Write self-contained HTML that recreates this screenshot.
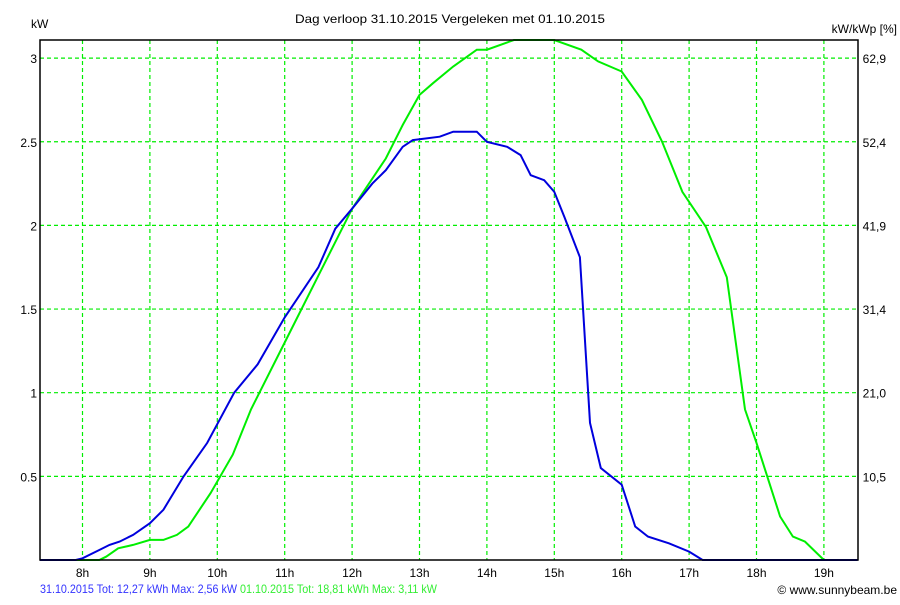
<!DOCTYPE html>
<html><head><meta charset="utf-8"><style>
body{margin:0;background:#fff;font-family:"Liberation Sans",Arial,sans-serif}
svg text{font-family:"Liberation Sans",Arial,sans-serif;font-size:12px}
</style></head><body>
<svg id="chart" width="900" height="600" xmlns="http://www.w3.org/2000/svg">
<rect width="900" height="600" fill="#fff"/>
<text x="295" y="23" textLength="310" lengthAdjust="spacingAndGlyphs" fill="#000">Dag  verloop 31.10.2015   Vergeleken met 01.10.2015</text>
<text x="31" y="28" fill="#000">kW</text>
<text x="897" y="33" text-anchor="end" fill="#000">kW/kWp [%]</text>
<g id="grid"></g>
<g id="series"></g>
<rect x="40" y="40" width="818" height="520" fill="none" stroke="#000" stroke-width="1.5"/>
<g id="labels"></g>
<text x="40" y="593" textLength="197" lengthAdjust="spacingAndGlyphs" fill="#3333ff" font-size="10.5">31.10.2015 Tot: 12,27 kWh Max: 2,56 kW</text>
<text x="240" y="593" textLength="197" lengthAdjust="spacingAndGlyphs" fill="#33ee33" font-size="10.5">01.10.2015 Tot: 18,81 kWh Max: 3,11 kW</text>
<text x="897" y="594" text-anchor="end" fill="#000" font-size="11">© www.sunnybeam.be</text>
</svg>
<script>
const hourTicks=[8,9,10,11,12,13,14,15,16,17,18,19];
const kwTicks=[0.5,1,1.5,2,2.5,3];
const pctLabels=["10,5","21,0","31,4","41,9","52,4","62,9"];
const blueHours=[7.37,7.9,8.0,8.25,8.4,8.55,8.75,9.0,9.2,9.5,9.85,10.25,10.6,11.0,11.5,11.75,12.0,12.3,12.5,12.75,12.9,13.3,13.5,13.85,14.0,14.3,14.5,14.65,14.85,15.0,15.15,15.38,15.53,15.69,16.0,16.2,16.39,16.7,17.0,17.2,19.5];
const blueKw=[0,0,0.01,0.06,0.09,0.11,0.15,0.22,0.3,0.5,0.7,1.0,1.17,1.45,1.75,1.98,2.1,2.25,2.33,2.47,2.51,2.53,2.56,2.56,2.5,2.47,2.42,2.3,2.27,2.2,2.05,1.81,0.82,0.55,0.45,0.2,0.14,0.1,0.05,0,0];
const greenHours=[7.37,8.25,8.35,8.53,8.75,9.0,9.2,9.4,9.57,9.9,10.23,10.5,11.0,11.5,12.0,12.5,12.75,13.0,13.2,13.5,13.85,14.0,14.4,15.0,15.4,15.65,16.0,16.3,16.6,16.9,17.25,17.56,17.83,18.0,18.35,18.54,18.72,19.0,19.5];
const greenKw=[0,0,0.02,0.07,0.09,0.12,0.12,0.15,0.2,0.4,0.63,0.9,1.3,1.7,2.1,2.4,2.6,2.78,2.85,2.95,3.05,3.05,3.11,3.11,3.05,2.98,2.92,2.75,2.5,2.2,1.99,1.69,0.9,0.7,0.26,0.14,0.11,0,0];
const NS="http://www.w3.org/2000/svg";
const X=h=>82.5+(h-8)*67.4;
const Y=v=>560-167.3*v;
function mk(tag,attrs,parent){const e=document.createElementNS(NS,tag);for(const k in attrs)e.setAttribute(k,attrs[k]);parent.appendChild(e);return e;}
const grid=document.getElementById('grid'),labels=document.getElementById('labels'),series=document.getElementById('series');
hourTicks.forEach(h=>{
 const l=mk('line',{x1:X(h),x2:X(h),y1:40,y2:560,stroke:'#00ee00','stroke-dasharray':'4,3','stroke-width':1.2},grid);
 
 
 const t=mk('text',{x:X(h),y:577,'text-anchor':'middle',fill:'#000'},labels);t.textContent=h+'h';
 
 
});
kwTicks.forEach((v,i)=>{
 const l=mk('line',{x1:40,x2:858,y1:Y(v),y2:Y(v),stroke:'#00ee00','stroke-dasharray':'4,3','stroke-width':1.2},grid);
 
 
 const t=mk('text',{x:37,y:Y(v)+5,'text-anchor':'end',fill:'#000'},labels);t.textContent=String(v);
 
 
 const r=mk('text',{x:886,y:Y(v)+5,'text-anchor':'end',fill:'#000'},labels);r.textContent=pctLabels[i];
 
 
});
function pts(hs,vs){return hs.map((h,i)=>X(h).toFixed(1)+','+Math.max(40,Y(vs[i])).toFixed(1)).join(' ');}
const g=mk('polyline',{points:pts(greenHours,greenKw),fill:'none',stroke:'#00ee00','stroke-width':2},series);


const b=mk('polyline',{points:pts(blueHours,blueKw),fill:'none',stroke:'#0000dd','stroke-width':2},series);


</script>
</body></html>
